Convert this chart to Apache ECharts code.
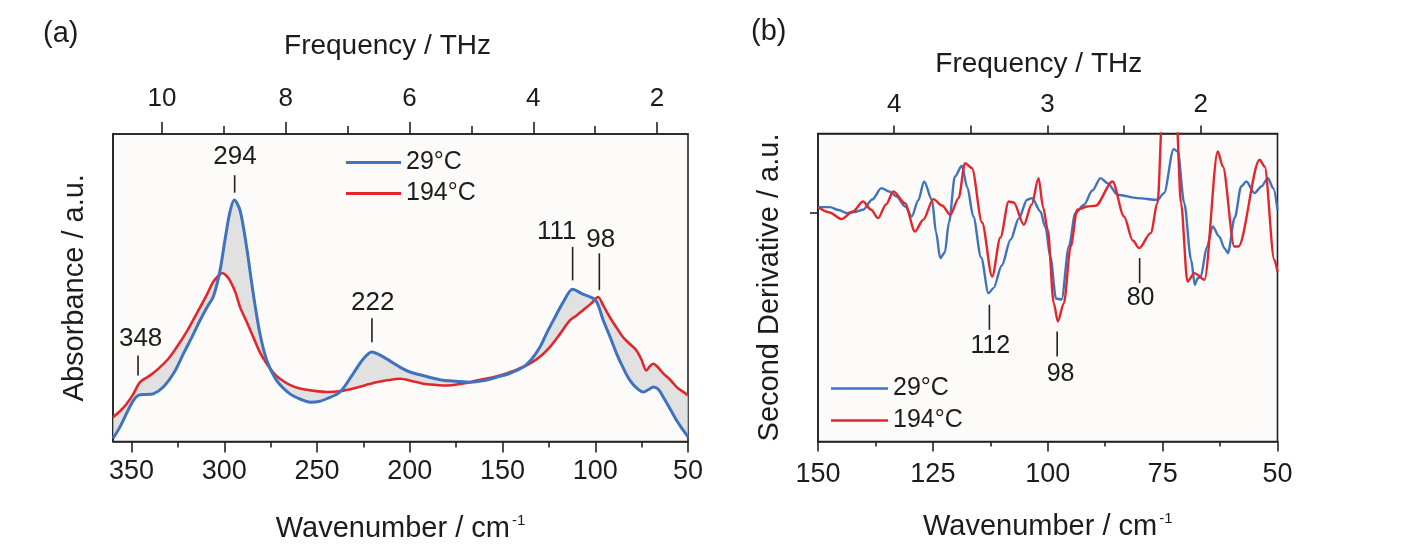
<!DOCTYPE html>
<html><head><meta charset="utf-8">
<script src="https://cdn.jsdelivr.net/npm/echarts@6/dist/echarts.min.js"></script>
<style>html,body{margin:0;padding:0;background:#fff}#c{width:1404px;height:558px}</style>
</head><body><div id="c"></div>
<script>
// ---------- Panel (a): absorbance spectra ----------
const wnBlueA = [360,356,352,349,346.4,342,338.3,332.9,327,322,317,313,309,306,302.5,299.5,297,294.6,291.5,288,284.4,280.8,277.1,271.8,264.6,258,253.8,249,244.8,237.6,230.5,225,220.5,214.3,205.3,199.9,190,182,175,167.6,160,153.2,146,138.8,134,129.8,126,122.6,117.2,112.2,107.3,100.2,98.2,95.7,92,88.5,85,81.3,77,74.1,71,68.7,66,63.3,60,56.1,53,50];
const absBlueA = [0.01,0.05,0.10,0.134,0.150,0.153,0.155,0.177,0.225,0.286,0.345,0.395,0.44,0.47,0.55,0.66,0.745,0.785,0.752,0.633,0.481,0.351,0.264,0.199,0.155,0.135,0.128,0.13,0.139,0.161,0.221,0.269,0.291,0.275,0.242,0.226,0.21,0.199,0.196,0.193,0.198,0.209,0.222,0.242,0.27,0.307,0.355,0.394,0.454,0.495,0.481,0.462,0.44,0.394,0.34,0.286,0.24,0.199,0.17,0.161,0.17,0.177,0.17,0.144,0.11,0.068,0.04,0.015];
const wnRedA = [360,356,352.6,349,345.4,340,335.5,330,325.6,320,314.9,310,306,303,301.1,299,297,294,291.5,288,284.4,280.8,277.1,273,270,265,259.2,252,244.8,237,230.5,224,217.9,211,205.3,199,192.7,186,180.1,174,167.6,160,151.4,143,135.3,129,124.5,119,113.7,110,106.6,102,98.5,95.5,92.2,88.5,85,81.5,77.8,75,72.5,70.5,68.7,66,63.3,59.5,56.1,53,50];
const absRedA = [0.079,0.10,0.123,0.155,0.193,0.215,0.237,0.27,0.307,0.36,0.416,0.47,0.519,0.54,0.548,0.54,0.524,0.485,0.437,0.39,0.340,0.29,0.253,0.22,0.204,0.185,0.172,0.165,0.161,0.164,0.172,0.183,0.193,0.2,0.204,0.197,0.188,0.184,0.182,0.186,0.193,0.203,0.215,0.232,0.253,0.28,0.307,0.35,0.394,0.41,0.427,0.45,0.470,0.44,0.405,0.37,0.339,0.318,0.296,0.265,0.231,0.245,0.253,0.24,0.221,0.2,0.177,0.163,0.15];

// peak annotations (a): label, tick wavenumber, tick bottom/top, label anchor
const annA_text = ['348','294','222','111','98'];
const annA_x  = [346.5, 294.4, 220.4, 112.2, 97.8];
const annA_y0 = [0.215, 0.809, 0.323, 0.524, 0.492];
const annA_y1 = [0.280, 0.866, 0.401, 0.633, 0.612];
const annA_tx = [345.1, 294.2, 220.0, 120.8, 97.0];
const annA_ty = [0.335, 0.926, 0.450, 0.682, 0.655];

// ---------- Panel (b): second derivative ----------
const wnBlueB = [150,147.4,145.5,143.8,142,140.2,138.2,136.2,134.5,132.9,131,129.6,128.2,126.9,125.2,124.3,123.4,122.4,121.5,120.2,118.7,117.5,116.2,114.5,112.9,111.8,110,108.1,106.3,104.5,103.4,101.6,100.5,99.4,98.2,97,95.4,94,92.1,90.3,88.5,87,84.8,80.5,76.1,74.7,72.6,71.7,70.3,68.8,68,67.4,66.7,65.4,64.1,62.7,61.5,60.8,59.3,57.9,56.8,55,53.5,52.1,50.9,50];
const d2BlueB = [0.54,0.54,0.25,-0.06,0.05,0.27,1.3,2.44,2.1,1.6,0.6,-0.4,1.2,3.1,1.27,-2.0,-4.56,-4.0,-1.0,3.6,4.67,2.5,-0.4,-4.5,-8.06,-7.56,-5.3,-2.73,-0.6,1.27,1.44,0.1,-1.5,-4.5,-8.6,-8.7,-3.4,-0.06,0.77,2.2,3.44,2.94,1.77,1.44,1.27,1.94,6.34,6.1,0.94,-4.73,-7.23,-6.6,-6.4,-3.5,-1.4,-2.4,-3.6,-4.06,-0.5,2.6,3.1,1.94,2.6,3.44,2.4,0.27];
const wnRedB = [150,147.5,144.9,142.4,140.2,138.5,136.9,135.2,133.6,131.1,128.9,127.1,124.9,123,121.2,119.4,118,116.5,114.3,112.1,110.3,108.5,107.4,105.2,103.5,102,101,100,98.7,97.8,96.5,95,93.6,91.4,89.6,85.9,83.4,81.5,80.1,77.6,76.1,75,72.1,71,69.6,68.1,65.9,63,61.9,59.4,58.5,53.9,52.8,50.7,50];
const d2RedB = [0.54,0.0,-0.66,0.1,1.1,0.3,-0.56,0.8,2.1,0.94,-1.9,-0.73,1.34,0.7,-0.23,1.44,4.94,4.44,-1.0,-6.4,-2.5,1.1,1.0,-1.23,0.8,3.44,0.5,-1.73,-9.06,-10.9,-9.06,-3.4,0.27,0.6,0.67,3.1,-0.4,-2.8,-3.56,-2.06,0.94,10.5,10.5,0.94,-6.9,-6.06,-6.73,6.1,4.6,-3.4,-3.4,5.27,4.6,-4.73,-5.9];

const annB_text = ['112','98','80'];
const annB_x  = [112.7, 97.95, 80.0];
const annB_y0 = [-9.23, -11.9, -4.56];
const annB_y1 = [-11.73, -14.4, -7.06];
const annB_tx = [112.5, 97.2, 79.8];
const annB_ty = [-13.4, -16.2, -8.56];

// tick labels
const wnTicksA = [50,100,150,200,250,300,350];
const wnMinorA = [75,125,175,225,275,325];
const thzTicksA = [2,4,6,8,10];
const thzMinorA = [3,5,7,9];
const thzTicksB = [2,3,4];
const thzAllB = [2,2.5,3,3.5,4];
const seriesNames = ['29°C','194°C'];

const C = 0.0299792458; // THz per cm-1
const FONT = '"Liberation Sans", Arial, Helvetica, sans-serif';
const TXT = '#1c1c1c';
const BLUE = '#3f72bf', RED = '#e3262b';

function zip(a,b){ return a.map((v,i)=>[v,b[i]]); }

function annRender(xs, y0s, y1s, txs, tys, texts, fs){
  return function(params, api){
    const i = params.dataIndex;
    const p0 = api.coord([xs[i], y0s[i]]);
    const p1 = api.coord([xs[i], y1s[i]]);
    const pt = api.coord([txs[i], tys[i]]);
    return {type:'group', children:[
      {type:'line', shape:{x1:p0[0],y1:p0[1],x2:p1[0],y2:p1[1]}, style:{stroke:'#222', lineWidth:1.6}},
      {type:'text', x:pt[0], y:pt[1], style:{text:texts[i], fontSize:fs, fontFamily:FONT, fill:TXT, align:'center', verticalAlign:'middle'}}
    ]};
  };
}

function fillRender(params, api){
  const pts = [];
  for (let i=0;i<wnBlueA.length;i++) pts.push(api.coord([wnBlueA[i], absBlueA[i]]));
  for (let i=wnRedA.length-1;i>=0;i--) pts.push(api.coord([wnRedA[i], absRedA[i]]));
  return {type:'polygon', shape:{points:pts}, style:{fill:'#d6d6d6', opacity:0.7}};
}

const axisLineStyle = {show:true, onZero:false, lineStyle:{color:'#222', width:1.6}};
const noLine = {show:false, onZero:false};
const nameRich = {
  a:{fontSize:29, fontFamily:FONT, color:TXT},
  s:{fontSize:15, fontFamily:FONT, color:TXT, verticalAlign:'top', padding:[0,0,16,2]}
};

const option = {
  animation:false,
  backgroundColor:'#ffffff',
  textStyle:{fontFamily:FONT},
  title:[
    {text:'(a)', left:38, top:14, textStyle:{fontSize:29, fontWeight:'normal', color:TXT, fontFamily:FONT}},
    {text:'(b)', left:746, top:12, textStyle:{fontSize:29, fontWeight:'normal', color:TXT, fontFamily:FONT}}
  ],
  grid:[
    {left:113, top:134, width:575, height:307.5, show:true, backgroundColor:'#fcfbfa', borderColor:'#222', borderWidth:1.6, outerBoundsMode:'none'},
    {left:818, top:133.5, width:459.5, height:308, show:true, backgroundColor:'#fcfbfa', borderColor:'#222', borderWidth:1.6, outerBoundsMode:'none'}
  ],
  legend:[
    {data:seriesNames, orient:'vertical', left:341, top:145, icon:'rect', itemWidth:55, itemHeight:3, itemGap:6,
     textStyle:{fontSize:25, color:TXT, fontFamily:FONT, lineHeight:25}, selectedMode:false},
    {data:seriesNames, orient:'vertical', left:826, top:371, icon:'rect', itemWidth:57, itemHeight:2.5, itemGap:7,
     textStyle:{fontSize:25, color:TXT, fontFamily:FONT, lineHeight:25}, selectedMode:false}
  ],
  xAxis:[
    // 0: (a) bottom major
    {type:'value', gridIndex:0, position:'bottom', min:50, max:360, inverse:true,
     axisLine:axisLineStyle, splitLine:{show:false},
     axisTick:{show:true, inside:false, length:11, customValues:wnTicksA, lineStyle:{color:'#222', width:1.6}},
     axisLabel:{show:true, customValues:wnTicksA, margin:17, fontSize:27, color:TXT, fontFamily:FONT},
     name:'{a|Wavenumber / cm}{s|-1}', nameLocation:'middle', nameGap:72,
     nameTextStyle:{rich:nameRich}},
    // 1: (a) bottom minor
    {type:'value', gridIndex:0, position:'bottom', min:50, max:360, inverse:true,
     axisLine:noLine, splitLine:{show:false}, axisLabel:{show:false},
     axisTick:{show:true, length:6, customValues:wnMinorA, lineStyle:{color:'#222', width:1.6}}},
    // 2: (a) top frequency major
    {type:'value', gridIndex:0, position:'top', min:50*C, max:360*C, inverse:true,
     axisLine:axisLineStyle, splitLine:{show:false},
     axisTick:{show:true, length:12, customValues:thzTicksA, lineStyle:{color:'#222', width:1.6}},
     axisLabel:{show:true, customValues:thzTicksA, margin:22, fontSize:26, color:TXT, fontFamily:FONT},
     name:'Frequency / THz', nameLocation:'middle', nameGap:74,
     nameTextStyle:{fontSize:28, color:TXT, fontFamily:FONT, padding:[0,26,0,0]}},
    // 3: (a) top frequency minor
    {type:'value', gridIndex:0, position:'top', min:50*C, max:360*C, inverse:true,
     axisLine:noLine, splitLine:{show:false}, axisLabel:{show:false},
     axisTick:{show:true, length:8, customValues:thzMinorA, lineStyle:{color:'#222', width:1.6}}},
    // 4: (b) bottom
    {type:'value', gridIndex:1, position:'bottom', min:50, max:150, interval:25, inverse:true,
     axisLine:axisLineStyle, splitLine:{show:false},
     axisTick:{show:true, length:10, lineStyle:{color:'#222', width:1.6}},
     minorTick:{show:true, splitNumber:2, length:5, lineStyle:{color:'#222', width:1.6}},
     axisLabel:{show:true, margin:20, fontSize:27, color:TXT, fontFamily:FONT},
     name:'{a|Wavenumber / cm}{s|-1}', nameLocation:'middle', nameGap:70,
     nameTextStyle:{rich:nameRich}},
    // 5: (b) top frequency
    {type:'value', gridIndex:1, position:'top', min:50*C, max:150*C, inverse:true,
     axisLine:axisLineStyle, splitLine:{show:false},
     axisTick:{show:true, length:8, customValues:thzAllB, lineStyle:{color:'#222', width:1.6}},
     axisLabel:{show:true, customValues:thzTicksB, margin:16, fontSize:26, color:TXT, fontFamily:FONT},
     name:'Frequency / THz', nameLocation:'middle', nameGap:55,
     nameTextStyle:{fontSize:28, color:TXT, fontFamily:FONT, padding:[0,18,0,0]}}
  ],
  yAxis:[
    {type:'value', gridIndex:0, min:0, max:1, axisLine:axisLineStyle, axisTick:{show:false},
     axisLabel:{show:false}, splitLine:{show:false},
     name:'Absorbance / a.u.', nameLocation:'middle', nameGap:24,
     nameTextStyle:{fontSize:29, color:TXT, fontFamily:FONT}},
    {type:'value', gridIndex:1, min:-22.9, max:7.9, axisLine:axisLineStyle,
     axisTick:{show:true, length:8, customValues:[0], lineStyle:{color:'#222', width:1.6}},
     axisLabel:{show:false}, splitLine:{show:false},
     name:'Second Derivative / a.u.', nameLocation:'middle', nameGap:34,
     nameTextStyle:{fontSize:29, color:TXT, fontFamily:FONT}}
  ],
  series:[
    {type:'custom', name:'range', xAxisIndex:0, yAxisIndex:0, renderItem:fillRender,
     data:[[wnBlueA[0], absBlueA[0]]], z:1, silent:true},
    {type:'line', name:seriesNames[0], xAxisIndex:0, yAxisIndex:0, data:zip(wnBlueA, absBlueA),
     symbol:'none', smooth:0.3, lineStyle:{color:BLUE, width:3}, itemStyle:{color:BLUE}, z:3},
    {type:'line', name:seriesNames[1], xAxisIndex:0, yAxisIndex:0, data:zip(wnRedA, absRedA),
     symbol:'none', smooth:0.3, lineStyle:{color:RED, width:2.6}, itemStyle:{color:RED}, z:2},
    {type:'custom', name:'peaksA', xAxisIndex:0, yAxisIndex:0,
     renderItem:annRender(annA_x, annA_y0, annA_y1, annA_tx, annA_ty, annA_text, 26),
     data:zip(annA_x, annA_y0), z:4, silent:true},
    {type:'line', name:seriesNames[0], xAxisIndex:4, yAxisIndex:1, data:zip(wnBlueB, d2BlueB),
     symbol:'none', smooth:0.3, smoothMonotone:'x', lineStyle:{color:BLUE, width:2.4}, itemStyle:{color:BLUE}, z:3},
    {type:'line', name:seriesNames[1], xAxisIndex:4, yAxisIndex:1, data:zip(wnRedB, d2RedB),
     symbol:'none', smooth:0.3, smoothMonotone:'x', lineStyle:{color:RED, width:2.4}, itemStyle:{color:RED}, z:4},
    {type:'custom', name:'peaksB', xAxisIndex:4, yAxisIndex:1,
     renderItem:annRender(annB_x, annB_y0, annB_y1, annB_tx, annB_ty, annB_text, 25),
     data:zip(annB_x, annB_y0), z:5, silent:true}
  ]
};
const chart = echarts.init(document.getElementById('c'), null, {renderer:'canvas'});
chart.setOption(option);
</script></body></html>
